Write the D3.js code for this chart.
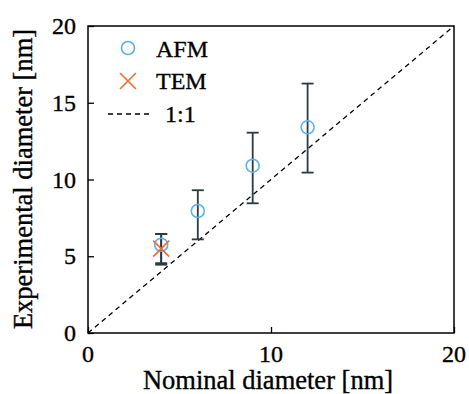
<!DOCTYPE html>
<html>
<head>
<meta charset="utf-8">
<script src="https://cdn.jsdelivr.net/npm/d3@7"></script>
<style>
  body { margin: 0; background: #fff; }
</style>
</head>
<body>
<div id="chart"></div>
<script>
// nominal vs measured diameters (nm)
var nominal = [4, 6, 9, 12];
var afmMean = [5.75, 7.95, 10.9, 13.4];
var afmLow = [4.55, 6.1, 8.45, 10.45];
var afmHigh = [6.45, 9.3, 13.05, 16.25];

var temNominal = [4];
var temMean = [5.5];
var temLow = [4.45];
var temHigh = [6.45];

var xTicks = [0, 10, 20];
var yTicks = [0, 5, 10, 15, 20];

var width = 469, height = 394;
var margin = { top: 26, right: 15, bottom: 61, left: 88 };
var w = width - margin.left - margin.right,
  h = height - margin.top - margin.bottom;
var font = "'Liberation Serif', 'DejaVu Serif', serif";

var svg = d3.select("#chart").append("svg")
  .attr("width", width).attr("height", height)
  .attr("font-family", font);

var g = svg.append("g")
  .attr("transform", "translate(" + margin.left + "," + margin.top + ")");

var x = d3.scaleLinear().domain([0, 20]).range([0, w]);
var y = d3.scaleLinear().domain([0, 20]).range([h, 0]);

// 1:1 line
g.append("line")
  .attr("x1", x(0)).attr("y1", y(0))
  .attr("x2", x(20)).attr("y2", y(20))
  .attr("stroke", "#000").attr("stroke-width", 1.3)
  .attr("stroke-dasharray", "5,4");

// error bars
var barColor = "#2b3a3f";
function errorBars(xs, lo, hi) {
  var eb = g.append("g").attr("stroke", barColor).attr("stroke-width", 1.8);
  xs.forEach(function (d, i) {
    eb.append("line").attr("x1", x(d)).attr("x2", x(d))
      .attr("y1", y(lo[i])).attr("y2", y(hi[i]));
    [lo[i], hi[i]].forEach(function (v) {
      eb.append("line").attr("x1", x(d) - 6).attr("x2", x(d) + 6)
        .attr("y1", y(v)).attr("y2", y(v));
    });
  });
}
errorBars(nominal, afmLow, afmHigh);
errorBars(temNominal, temLow, temHigh);

// AFM circles
var blue = "#5cb1f2", orange = "#f2692a";
g.selectAll(".afm").data(nominal).enter().append("circle")
  .attr("cx", function (d) { return x(d); })
  .attr("cy", function (d, i) { return y(afmMean[i]); })
  .attr("r", 6.5)
  .attr("fill", "none").attr("stroke", blue).attr("stroke-width", 1.6);

// TEM crosses
function cross(sel, cx, cy, s) {
  sel.append("path")
    .attr("d", "M" + (cx - s) + "," + (cy - s) + "L" + (cx + s) + "," + (cy + s) +
      "M" + (cx - s) + "," + (cy + s) + "L" + (cx + s) + "," + (cy - s))
    .attr("stroke", orange).attr("stroke-width", 1.6).attr("fill", "none");
}
temNominal.forEach(function (d, i) { cross(g, x(d), y(temMean[i]), 8); });

// axes with inward ticks
var xAxis = g.append("g").attr("transform", "translate(0," + h + ")")
  .call(d3.axisTop(x).tickValues(xTicks).tickSize(6).tickFormat(""));
var yAxis = g.append("g")
  .call(d3.axisRight(y).tickValues(yTicks).tickSize(6).tickFormat(""));
[xAxis, yAxis].forEach(function (a) {
  a.select(".domain").remove();
  a.selectAll("line").attr("stroke", "#000").attr("stroke-width", 1.3);
});

// frame
g.append("rect").attr("x", 0).attr("y", 0).attr("width", w).attr("height", h)
  .attr("fill", "none").attr("stroke", "#000").attr("stroke-width", 1.5);

function label(sel, size) {
  return sel.attr("font-family", font).attr("font-size", size || 24)
    .attr("fill", "#000").attr("stroke", "#000").attr("stroke-width", 0.35);
}

// tick labels
label(g.selectAll(".xl").data(xTicks).enter().append("text"))
  .attr("x", function (d) { return x(d); }).attr("y", h + 29)
  .attr("text-anchor", "middle")
  .text(function (d) { return d; });
label(g.selectAll(".yl").data(yTicks).enter().append("text"))
  .attr("x", -12).attr("y", function (d) { return y(d) + 8; })
  .attr("text-anchor", "end")
  .text(function (d) { return d; });

// axis titles
label(svg.append("text"), 26.5).attr("x", 268).attr("y", 389)
  .attr("text-anchor", "middle")
  .text("Nominal diameter [nm]");
label(svg.append("text"), 26.5)
  .attr("transform", "translate(32,179) rotate(-90)")
  .attr("text-anchor", "middle")
  .text("Experimental diameter [nm]");

// legend
var lg = svg.append("g");
lg.append("circle").attr("cx", 128).attr("cy", 48).attr("r", 6.5)
  .attr("fill", "none").attr("stroke", blue).attr("stroke-width", 1.6);
label(lg.append("text")).attr("x", 156).attr("y", 57).text("AFM");
cross(lg, 128, 81, 8);
label(lg.append("text")).attr("x", 156).attr("y", 89).text("TEM");
lg.append("line").attr("x1", 108).attr("x2", 152).attr("y1", 114).attr("y2", 114)
  .attr("stroke", "#000").attr("stroke-width", 1.3).attr("stroke-dasharray", "5,4");
label(lg.append("text")).attr("x", 165).attr("y", 122).text("1:1");
</script>
</body>
</html>
